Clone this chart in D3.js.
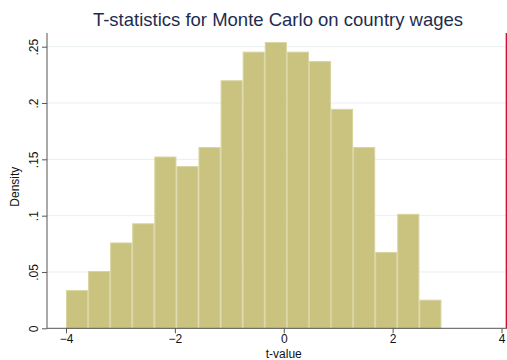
<!DOCTYPE html>
<html>
<head>
<meta charset="utf-8">
<script src="https://cdn.jsdelivr.net/npm/d3@7"></script>
<style>
  html, body { margin: 0; padding: 0; background: #fff; }
  svg { display: block; font-family: "Liberation Sans", Arial, sans-serif; }
</style>
</head>
<body>
<svg id="chart" width="507" height="360"></svg>
<script>
// Histogram of Monte Carlo t-statistics (density scale)
const binStart = -4.0;
const binWidth = 0.4057;
const densities = [0.0339, 0.0508, 0.0762, 0.0932, 0.1525, 0.1440, 0.1609, 0.2202,
                   0.2456, 0.2541, 0.2456, 0.2372, 0.1948, 0.1609, 0.0678, 0.1016, 0.0254];
const xTicks = [-4, -2, 0, 2, 4];
const yTicks = [0, 0.05, 0.1, 0.15, 0.2, 0.25];
const yTickLabels = ["0", ".05", ".1", ".15", ".2", ".25"];
const observedT = 4.09;

const svg = d3.select("#chart");
const plotLeft = 47, plotRight = 507, plotTop = 33, plotBottom = 328.3;

const x = d3.scaleLinear().domain([-4, 4]).range([66, 501.5]);
const y = d3.scaleLinear().domain([0, 0.25]).range([plotBottom, 46.7]);

const bins = densities.map((d, i) => ({
  x0: binStart + i * binWidth,
  x1: binStart + (i + 1) * binWidth,
  d
}));

// title
svg.append("text")
  .attr("x", 278).attr("y", 26)
  .attr("text-anchor", "middle")
  .attr("font-size", 18.5)
  .attr("fill", "#1e2d4f")
  .text("T-statistics for Monte Carlo on country wages");

// gridlines
svg.append("g").selectAll("line")
  .data(yTicks.filter(t => t > 0))
  .join("line")
  .attr("x1", plotLeft).attr("x2", plotRight)
  .attr("y1", d => y(d)).attr("y2", d => y(d))
  .attr("stroke", "#e8eff2").attr("stroke-width", 1);

// bars
svg.append("g").selectAll("rect")
  .data(bins)
  .join("rect")
  .attr("x", b => x(b.x0) + 0.5)
  .attr("width", b => x(b.x1) - x(b.x0) - 1)
  .attr("y", b => y(b.d) + 0.5)
  .attr("height", b => plotBottom - y(b.d) - 0.5)
  .attr("fill", "#c9c37f")
  .attr("stroke", "#d8d39e")
  .attr("stroke-width", 1);

// observed t-statistic
svg.append("line")
  .attr("x1", x(observedT)).attr("x2", x(observedT))
  .attr("y1", plotTop).attr("y2", plotBottom)
  .attr("stroke", "#d0103a").attr("stroke-width", 1.5);

// x axis
const xAxis = svg.append("g").attr("transform", `translate(0,${plotBottom})`);
xAxis.append("line")
  .attr("x1", plotLeft).attr("x2", plotRight)
  .attr("stroke", "#555").attr("stroke-width", 1);
xAxis.call(d3.axisBottom(x).tickValues(xTicks).tickFormat(d3.format("d")).tickSizeOuter(0).tickSize(5))
  .call(g => g.select(".domain").remove())
  .call(g => g.selectAll(".tick line").attr("stroke", "#555"))
  .call(g => g.selectAll(".tick text")
    .attr("font-size", 12).attr("fill", "#111").attr("dy", "0.72em").attr("y", 6)
    .attr("font-family", "Liberation Sans, Arial, sans-serif"));

svg.append("text")
  .attr("x", x(0)).attr("y", 358)
  .attr("text-anchor", "middle")
  .attr("font-size", 12).attr("fill", "#111")
  .text("t-value");

// y axis
const yAxis = svg.append("g").attr("transform", `translate(${plotLeft},0)`);
yAxis.append("line")
  .attr("y1", plotTop).attr("y2", plotBottom)
  .attr("stroke", "#555").attr("stroke-width", 1);
yAxis.call(d3.axisLeft(y).tickValues(yTicks).tickFormat((d, i) => yTickLabels[i]).tickSizeOuter(0).tickSize(5))
  .call(g => g.select(".domain").remove())
  .call(g => g.selectAll(".tick line").attr("stroke", "#555"))
  .call(g => g.selectAll(".tick text")
    .attr("font-size", 12).attr("fill", "#111")
    .attr("font-family", "Liberation Sans, Arial, sans-serif")
    .attr("x", null).attr("dy", null)
    .attr("text-anchor", "middle")
    .attr("transform", "translate(-13,0) rotate(-90)")
    .attr("dy", "0.35em"));

svg.append("text")
  .attr("transform", `translate(19,${(plotTop + plotBottom) / 2 + 6}) rotate(-90)`)
  .attr("text-anchor", "middle")
  .attr("font-size", 12).attr("fill", "#111")
  .text("Density");
</script>
</body>
</html>
